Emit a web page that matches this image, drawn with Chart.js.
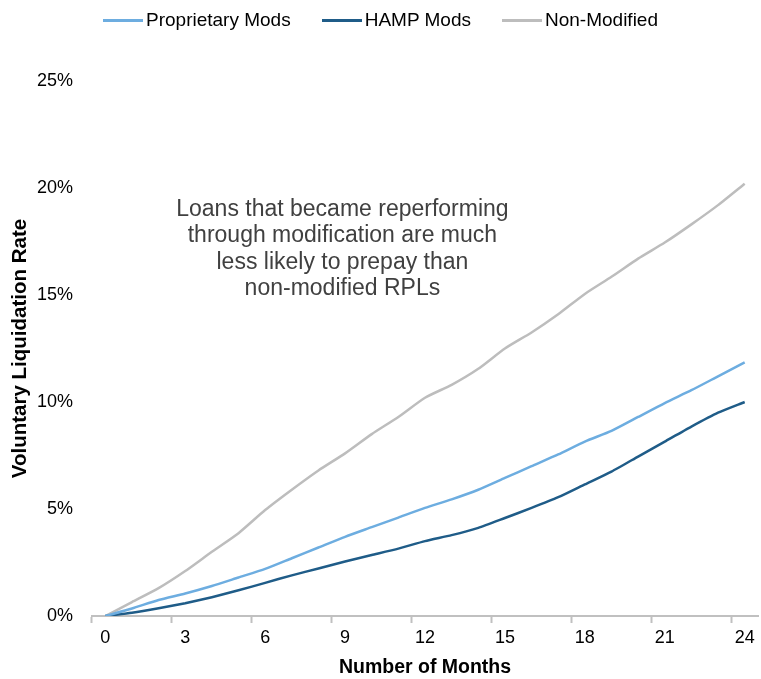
<!DOCTYPE html>
<html>
<head>
<meta charset="utf-8">
<script src="https://cdn.jsdelivr.net/npm/chart.js@4/dist/chart.umd.min.js"></script>
<style>
  body { margin: 0; background: #fff; }
  #wrap { position: relative; width: 761px; height: 679px; }
  #legend {
    position: absolute; top: 9px; left: 0; width: 761px;
    display: flex; justify-content: center; gap: 31px;
    font: 19px "Liberation Sans", Arial, sans-serif; color: #000;
  }
  #legend .item { display: flex; align-items: center; }
  #legend .swatch { width: 40px; height: 3px; margin-right: 3px; }
</style>
</head>
<body>
<div id="wrap">
  <canvas id="rplChart" width="761" height="679"></canvas>
  <div id="legend"></div>
</div>
<script>
const months = ['0', '1', '2', '3', '4', '5', '6', '7', '8', '9', '10', '11', '12',
  '13', '14', '15', '16', '17', '18', '19', '20', '21', '22', '23', '24'];

// cumulative voluntary liquidation rate, %
const proprietaryMods = [0, 0.35, 0.75, 1.05, 1.4, 1.8, 2.2, 2.7, 3.2, 3.7, 4.15, 4.6, 5.05,
  5.45, 5.9, 6.45, 7.0, 7.55, 8.15, 8.65, 9.3, 9.95, 10.55, 11.2, 11.85];
const hampMods = [0, 0.15, 0.36, 0.6, 0.88, 1.2, 1.55, 1.9, 2.22, 2.55, 2.85, 3.15, 3.5,
  3.78, 4.12, 4.58, 5.05, 5.55, 6.15, 6.75, 7.45, 8.15, 8.85, 9.5, 10.0];
const nonModified = [0, 0.65, 1.3, 2.1, 3.0, 3.87, 4.95, 5.9, 6.8, 7.6, 8.5, 9.3, 10.2,
  10.8, 11.55, 12.5, 13.25, 14.1, 15.05, 15.85, 16.7, 17.45, 18.3, 19.2, 20.2];

const note = ['Loans that became reperforming', 'through modification are much',
  'less likely to prepay than', 'non-modified RPLs'];

const FONT = '"Liberation Sans", Arial, sans-serif';

// text box inside the plot
const notePlugin = {
  id: 'note',
  afterDatasetsDraw(chart) {
    const { ctx, scales: { x, y } } = chart;
    const cx = x.getPixelForValue(8.9);
    const cy = y.getPixelForValue(19.0);
    ctx.save();
    ctx.font = '23px ' + FONT;
    ctx.fillStyle = '#404040';
    ctx.textAlign = 'center';
    ctx.textBaseline = 'middle';
    note.forEach((line, i) => ctx.fillText(line, cx, cy + i * 26.5));
    ctx.restore();
  }
};

// html legend, spacing like the original
const htmlLegend = {
  id: 'htmlLegend',
  afterUpdate(chart) {
    const box = document.getElementById('legend');
    box.innerHTML = '';
    chart.data.datasets.forEach(ds => {
      const item = document.createElement('div');
      item.className = 'item';
      const sw = document.createElement('span');
      sw.className = 'swatch';
      sw.style.background = ds.borderColor;
      const txt = document.createElement('span');
      txt.textContent = ds.label;
      item.appendChild(sw);
      item.appendChild(txt);
      box.appendChild(item);
    });
  }
};

const ctx = document.getElementById('rplChart').getContext('2d');
const rplChart = new Chart(ctx, {
  type: 'line',
  data: {
    labels: months,
    datasets: [
      { label: 'Proprietary Mods', data: proprietaryMods, borderColor: '#6dade0' },
      { label: 'HAMP Mods', data: hampMods, borderColor: '#1f5c88' },
      { label: 'Non-Modified', data: nonModified, borderColor: '#bdbdbd' }
    ]
  },
  options: {
    responsive: false,
    animation: false,
    layout: { padding: { top: 81, right: 3, left: 0, bottom: 0 } },
    elements: {
      line: { borderWidth: 2.5, tension: 0.2, fill: false },
      point: { radius: 0 }
    },
    plugins: {
      legend: { display: false },
      tooltip: { enabled: false }
    },
    scales: {
      x: {
        offset: true,
        grid: {
          offset: true,
          drawOnChartArea: false,
          tickLength: 7,
          tickWidth: 2,
          tickColor: c => c.index % 3 === 0 ? '#c0c0c0' : 'rgba(0,0,0,0)'
        },
        border: { color: '#c0c0c0', width: 2 },
        ticks: {
          autoSkip: false,
          maxRotation: 0,
          padding: 4,
          color: '#000',
          font: { family: FONT, size: 18 },
          callback: (v, i) => i % 3 === 0 ? months[i] : ''
        },
        title: {
          display: true,
          text: 'Number of Months',
          color: '#000',
          font: { family: FONT, size: 19.5, weight: 'bold' },
          padding: { top: 3, bottom: 0 }
        },
        afterFit: s => { s.height = 63; }
      },
      y: {
        min: 0,
        max: 25,
        grid: { display: false, drawTicks: false },
        border: { display: false },
        ticks: {
          stepSize: 5,
          padding: 19,
          color: '#000',
          font: { family: FONT, size: 18 },
          callback: v => v + '%'
        },
        title: {
          display: true,
          text: 'Voluntary Liquidation Rate',
          color: '#000',
          font: { family: FONT, size: 20.5, weight: 'bold' },
          padding: { top: 8, bottom: 0 }
        },
        afterFit: s => { s.width = 92; }
      }
    }
  },
  plugins: [notePlugin, htmlLegend]
});
</script>
</body>
</html>
